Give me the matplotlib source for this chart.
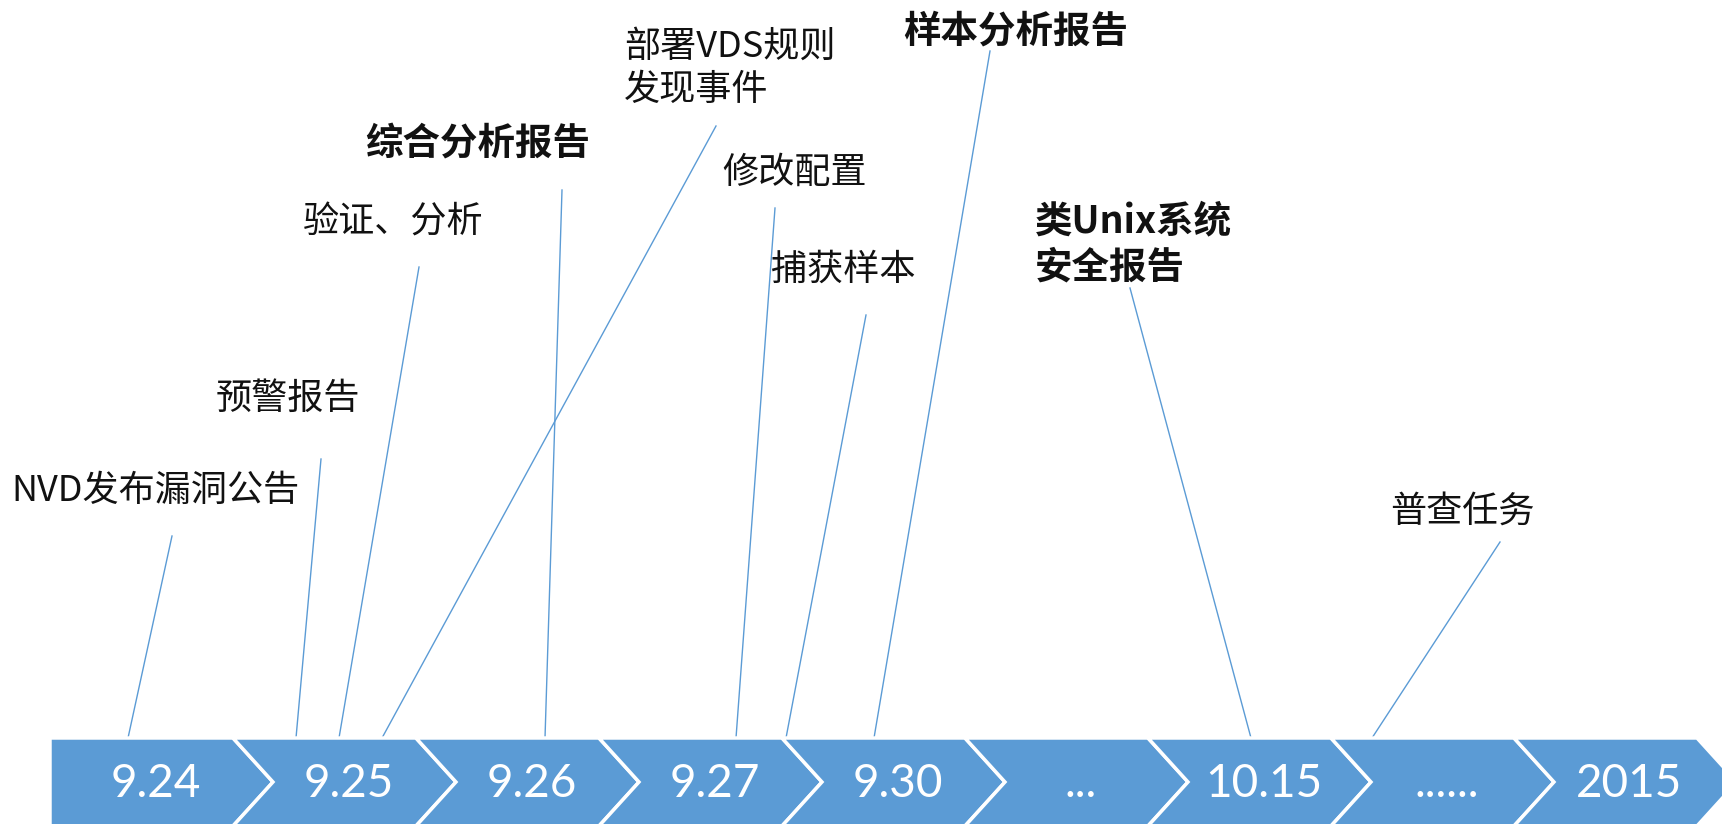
import matplotlib
matplotlib.use("Agg")
import matplotlib.pyplot as plt
from matplotlib.patches import Polygon

# Timeline stages shown in the chevron bar
dates = ["9.24", "9.25", "9.26", "9.27", "9.30", "...", "10.15", "......", "2015"]

# Events: label text, bold flag
events = ["NVD发布漏洞公告", "预警报告", "验证、分析", "部署VDS规则\n发现事件", "综合分析报告",
          "修改配置", "捕获样本", "样本分析报告", "类Unix系统\n安全报告", "普查任务"]
bold = [False, False, False, False, True, False, False, True, True, False]

# Layout (pixel units): leader line foot on the bar, leader top, label left/centre
foot_x = [128, 296, 339, 382, 545, 736, 786, 874, 1251, 1372]
top_xy = [(172, 536), (321, 459), (419, 267), (716, 126), (562, 190),
          (775, 208), (866, 315), (990, 51), (1130, 288), (1500, 542)]
label_xy = [(11, 491), (216, 399), (303, 223), (624, 68), (365, 143),
            (722, 173), (771, 270), (903, 31), (1035, 244), (1390, 512)]

BLUE = "#5B9BD5"
W, H = 1722, 824
left, first_end, seg_w, depth = 50, 233, 183, 40
bar_top, bar_bot = 738, 826
bar_mid = (bar_top + bar_bot) / 2

fig = plt.figure(figsize=(W / 100, H / 100), dpi=100)
ax = fig.add_axes([0, 0, 1, 1])
ax.set_xlim(0, W)
ax.set_ylim(H, 0)
ax.axis("off")

# Chevron bar
for i, d in enumerate(dates):
    if i == 0:
        x_start, x_end = left, first_end
        pts = [(x_start, bar_top), (x_end, bar_top), (x_end + depth, bar_mid),
               (x_end, bar_bot), (x_start, bar_bot)]
        cx = (x_start + x_end + depth) / 2 - 6
    else:
        x_start = first_end + seg_w * (i - 1)
        x_end = x_start + seg_w
        pts = [(x_start, bar_top), (x_end, bar_top), (x_end + depth, bar_mid),
               (x_end, bar_bot), (x_start, bar_bot), (x_start + depth, bar_mid)]
        cx = (x_start + x_end + depth) / 2 + 4
    ax.add_patch(Polygon(pts, closed=True, facecolor=BLUE, edgecolor="white",
                         linewidth=2.5, zorder=2))
    ax.text(cx, bar_mid + 2, d, color="white", fontsize=33, family="Lato",
            ha="center", va="center", zorder=3)

# Leader lines and labels
for i, txt in enumerate(events):
    ax.plot([foot_x[i], top_xy[i][0]], [bar_top, top_xy[i][1]], color=BLUE,
            linewidth=1.0, zorder=1)
    ax.text(label_xy[i][0], label_xy[i][1], txt,
            fontsize=27 if bold[i] else 26,
            family=["Noto Sans CJK SC", "DejaVu Sans"],
            fontweight="bold" if bold[i] else "normal",
            ha="left", va="center", linespacing=1.25, color="#111111")

fig.savefig("out.png", dpi=100, facecolor="white")
